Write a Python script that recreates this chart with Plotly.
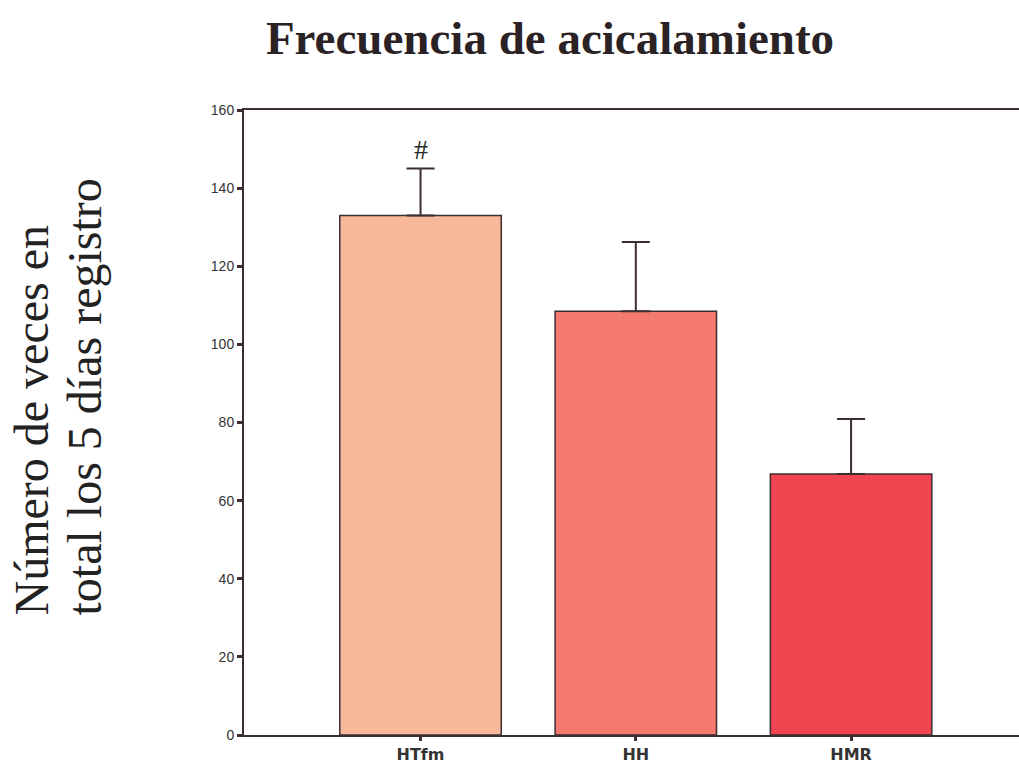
import plotly.graph_objects as go

categories = ["HTfm", "HH", "HMR"]
means = [133.0, 108.5, 66.8]
errors = [12.0, 17.7, 14.1]
colors = ["#F8B89A", "#F47A6E", "#F04550"]
y_ticks = [0, 20, 40, 60, 80, 100, 120, 140, 160]
sig_marks = ["#", "", ""]
sig_y = [150, None, None]
y_title_lines = ["Número de veces en", "total los 5 días registro"]

L, R, T, B = 244, 0, 110, 32
W, H = 1019, 767
pw, ph = W - L - R, H - T - B

fig = go.Figure()
fig.add_trace(go.Bar(
    x=list(range(len(categories))),
    y=means,
    width=0.75,
    marker=dict(color=colors, line=dict(color="#3a2e30", width=1.5)),
    error_y=dict(type="data", array=errors, arrayminus=[0] * len(errors),
                 symmetric=False, color="#3a2e30", thickness=2, width=14),
    showlegend=False,
))

for i, (m, yy) in enumerate(zip(sig_marks, sig_y)):
    if m:
        fig.add_annotation(x=i, y=yy, text=m, showarrow=False,
                           font=dict(family="Liberation Serif", size=28, color="#2a2a2a"),
                           xref="x", yref="y", yanchor="middle")

for line, cx in zip(y_title_lines, [31, 84]):
    fig.add_annotation(
        text=line, xref="paper", yref="paper",
        x=(cx - L) / pw, y=(H - B - 618) / ph,
        xanchor="center", yanchor="bottom", textangle=-90, showarrow=False,
        font=dict(family="Liberation Serif", size=48, color="#222"),
    )

fig.update_layout(
    width=W, height=H,
    margin=dict(l=L, r=R, t=T, b=B),
    paper_bgcolor="white", plot_bgcolor="white",
    title=dict(text="<b>Frecuencia de acicalamiento</b>", x=550 / W, xanchor="center",
               y=1 - 38 / H, yanchor="middle", xref="container", yref="container",
               font=dict(family="Liberation Serif", size=47, color="#2a2224")),
)
fig.update_xaxes(
    range=[-0.82, 2.78], tickmode="array", tickvals=list(range(len(categories))),
    ticktext=["<b>" + c + "</b>" for c in categories],
    tickfont=dict(family="DejaVu Sans", size=16, color="#333"),
    showline=True, linecolor="#3a2e30", linewidth=2, mirror=True,
    ticks="outside", ticklen=4, tickwidth=3, tickcolor="#3a2e30",
    showgrid=False, zeroline=False, automargin=False,
)
fig.update_yaxes(
    range=[0, 160], tickmode="array", tickvals=y_ticks,
    tickfont=dict(family="Liberation Sans", size=14, color="#333"),
    showline=True, linecolor="#3a2e30", linewidth=2,
    ticks="outside", ticklen=5, tickwidth=3, tickcolor="#3a2e30",
    showgrid=False, zeroline=False, automargin=False,
)

fig.write_html(
    "out.html",
    config={"displayModeBar": False},
    post_script="document.body.style.margin='0';document.body.style.overflow='hidden';",
)
